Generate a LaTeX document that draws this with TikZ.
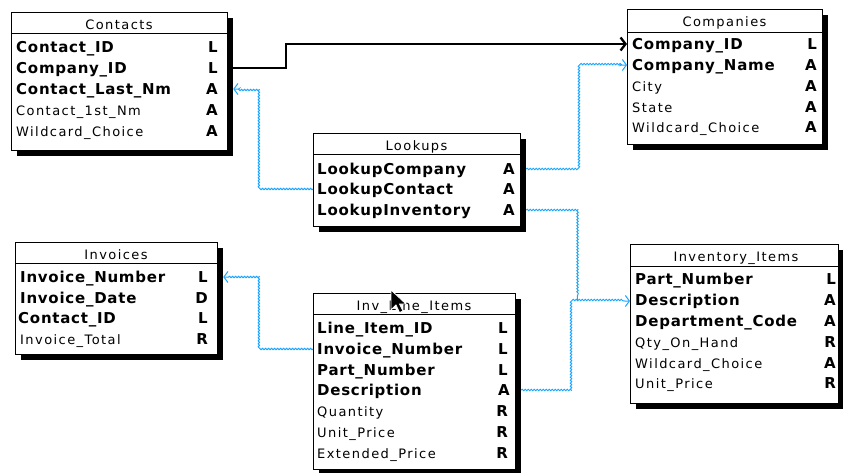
\documentclass[tikz,border=0pt]{standalone}
\usepackage{fontspec}
\setmainfont{DejaVu Sans}
\newfontfamily\regf[LetterSpace=11]{DejaVu Sans}
\newfontfamily\boldf[LetterSpace=5]{DejaVu Sans}
\usetikzlibrary{shadows,arrows.meta,decorations.pathmorphing}
\definecolor{linkblue}{RGB}{25,165,255}
\begin{document}
\begin{tikzpicture}[x=1pt,y=-1pt,
  tbl/.style={draw=black, line width=1.3pt, fill=white, rectangle, inner sep=0pt, anchor=north west,
    drop shadow={shadow xshift=5pt, shadow yshift=-5pt, fill=black, opacity=1}},
  ttl/.style={anchor=base, inner sep=0pt, font={\regf\fontsize{13}{15}\selectfont}},
  fld/.style={anchor=base west, inner sep=0pt, font={\regf\fontsize{13}{15}\selectfont}},
  keyf/.style={anchor=base west, inner sep=0pt, font={\boldf\bfseries\fontsize{15}{17}\selectfont}},
  typ/.style={anchor=base east, inner sep=0pt, font={\bfseries\fontsize{15}{17}\selectfont}},
  sepline/.style={draw=black, line width=1pt},
  bluelink/.style={draw=linkblue, line width=1pt, decorate,
    decoration={snake, amplitude=0.7pt, segment length=3pt, post length=5pt}},
  bluetip/.style={-{Straight Barb[length=4pt,width=11pt]}},
  blacklink/.style={draw=black, line width=2.3pt, -{Straight Barb[length=5pt,width=13pt]}}
]
\useasboundingbox (0,0) rectangle (843,472);

% ---------- Contacts ----------
\node[tbl, minimum width=216pt, minimum height=138pt] (contacts) at (11,12) {};
\draw[sepline] ([yshift=-21pt]contacts.north west) -- ([yshift=-21pt]contacts.north east);
\node[ttl] (contactsT) at (119,29.5) {Contacts};
\node[keyf] (c1) at (16,52.5) {Contact\_ID};
\node[keyf] (c2) at (16,73.5) {Company\_ID};
\node[keyf] (c3) at (16,94.5) {Contact\_Last\_Nm};
\node[fld]  (c4) at (16,115.5) {Contact\_1st\_Nm};
\node[fld]  (c5) at (16,136.5) {Wildcard\_Choice};
\node[typ] (ct1) at (218,52.5) {L};
\node[typ] (ct2) at (218,73.5) {L};
\node[typ] (ct3) at (218,94.5) {A};
\node[typ] (ct4) at (218,115.5) {A};
\node[typ] (ct5) at (218,136.5) {A};

% ---------- Companies ----------
\node[tbl, minimum width=195pt, minimum height=135pt] (companies) at (627,9) {};
\draw[sepline] ([yshift=-23pt]companies.north west) -- ([yshift=-23pt]companies.north east);
\node[ttl] (companiesT) at (724.5,26.5) {Companies};
\node[keyf] (co1) at (632,49.5) {Company\_ID};
\node[keyf] (co2) at (632,70.5) {Company\_Name};
\node[fld]  (co3) at (632,91.5) {City};
\node[fld]  (co4) at (632,112.5) {State};
\node[fld]  (co5) at (632,132.5) {Wildcard\_Choice};
\node[typ] (cot1) at (817,49.5) {L};
\node[typ] (cot2) at (817,70.5) {A};
\node[typ] (cot3) at (817,91.5) {A};
\node[typ] (cot4) at (817,112.5) {A};
\node[typ] (cot5) at (817,132.5) {A};

% ---------- Lookups ----------
\node[tbl, minimum width=207pt, minimum height=93pt] (lookups) at (313,133) {};
\draw[sepline] ([yshift=-21pt]lookups.north west) -- ([yshift=-21pt]lookups.north east);
\node[ttl] (lookupsT) at (416.5,150.5) {Lookups};
\node[keyf] (lk1) at (317,174.5) {LookupCompany};
\node[keyf] (lk2) at (317,194.5) {LookupContact};
\node[keyf] (lk3) at (317,215.5) {LookupInventory};
\node[typ] (lkt1) at (515,174.5) {A};
\node[typ] (lkt2) at (515,194.5) {A};
\node[typ] (lkt3) at (515,215.5) {A};

% ---------- Invoices ----------
\node[tbl, minimum width=202pt, minimum height=112pt] (invoices) at (15,242) {};
\draw[sepline] ([yshift=-21pt]invoices.north west) -- ([yshift=-21pt]invoices.north east);
\node[ttl] (invoicesT) at (116,259.5) {Invoices};
\node[keyf] (in1) at (20,282.5) {Invoice\_Number};
\node[keyf] (in2) at (20,303.5) {Invoice\_Date};
\node[keyf] (in3) at (18,323.5) {Contact\_ID};
\node[fld]  (in4) at (20,344.5) {Invoice\_Total};
\node[typ] (int1) at (208,282.5) {L};
\node[typ] (int2) at (208,303.5) {D};
\node[typ] (int3) at (208,323.5) {L};
\node[typ] (int4) at (208,344.5) {R};

% ---------- Inv_Line_Items ----------
\node[tbl, minimum width=202pt, minimum height=176pt] (lines) at (313,293) {};
\draw[sepline] ([yshift=-21pt]lines.north west) -- ([yshift=-21pt]lines.north east);
\node[ttl] (linesT) at (414,310.5) {Inv\_Line\_Items};
\node[keyf] (li1) at (317,333.5) {Line\_Item\_ID};
\node[keyf] (li2) at (317,354.5) {Invoice\_Number};
\node[keyf] (li3) at (317,375.5) {Part\_Number};
\node[keyf] (li4) at (317,395.5) {Description};
\node[fld]  (li5) at (317,416.5) {Quantity};
\node[fld]  (li6) at (317,437.5) {Unit\_Price};
\node[fld]  (li7) at (317,458.5) {Extended\_Price};
\node[typ] (lit1) at (508,333.5) {L};
\node[typ] (lit2) at (508,354.5) {L};
\node[typ] (lit3) at (508,375.5) {L};
\node[typ] (lit4) at (510,395.5) {A};
\node[typ] (lit5) at (508,416.5) {R};
\node[typ] (lit6) at (508,437.5) {R};
\node[typ] (lit7) at (508,458.5) {R};

% ---------- Inventory_Items ----------
\node[tbl, minimum width=208pt, minimum height=159pt] (inventory) at (630,244) {};
\draw[sepline] ([yshift=-22pt]inventory.north west) -- ([yshift=-22pt]inventory.north east);
\node[ttl] (inventoryT) at (736,261.5) {Inventory\_Items};
\node[keyf] (iv1) at (635,284.5) {Part\_Number};
\node[keyf] (iv2) at (635,305.5) {Description};
\node[keyf] (iv3) at (635,326.5) {Department\_Code};
\node[fld]  (iv4) at (635,347.5) {Qty\_On\_Hand};
\node[fld]  (iv5) at (635,368.5) {Wildcard\_Choice};
\node[fld]  (iv6) at (635,388.5) {Unit\_Price};
\node[typ] (ivt1) at (836,284.5) {L};
\node[typ] (ivt2) at (836,305.5) {A};
\node[typ] (ivt3) at (836,326.5) {A};
\node[typ] (ivt4) at (836,347.5) {R};
\node[typ] (ivt5) at (836,368.5) {A};
\node[typ] (ivt6) at (836,388.5) {R};

% ---------- row anchor points for connectors ----------
\coordinate (pc2) at (0,68);
\coordinate (pc3) at (0,89);
\coordinate (pco1) at (0,44);
\coordinate (pco2) at (0,65);
\coordinate (plk1) at (0,169);
\coordinate (plk2) at (0,189);
\coordinate (plk3) at (0,210);
\coordinate (pin1) at (0,277);
\coordinate (pli2) at (0,349);
\coordinate (pli4) at (0,390);
\coordinate (piv2) at (0,301);

% ---------- connectors ----------
\draw[blacklink] ([xshift=5pt]contacts.east |- pc2) -- ++(53,0) |- (companies.west |- pco1);

\coordinate (jn) at ([xshift=55pt]lines.east |- piv2);

\draw[bluelink, bluetip] (lookups.west |- plk2) -- ++(-52,0) |- ([xshift=5pt]contacts.east |- pc3);
\draw[bluelink, bluetip] ([xshift=5pt]lookups.east |- plk1) -- ++(51,0) |- (companies.west |- pco2);
\draw[bluelink] ([xshift=5pt]lookups.east |- plk3) -| ([xshift=6pt]jn);
\draw[bluelink, bluetip] ([xshift=5pt]lines.east |- pli4) -| (jn) -- (inventory.west |- piv2);
\draw[bluelink, bluetip] (lines.west |- pli2) -- ++(-52,0) |- ([xshift=5pt]invoices.east |- pin1);

% ---------- mouse pointer ----------
\fill[black, draw=white, line width=0.8pt, line join=miter]
  (391,290) -- ++(0,20) -- ++(5,-5) -- ++(3.5,7.5) -- ++(3.5,-1.5) -- ++(-3.5,-7) -- ++(6.5,0) -- cycle;
\end{tikzpicture}
\end{document}
